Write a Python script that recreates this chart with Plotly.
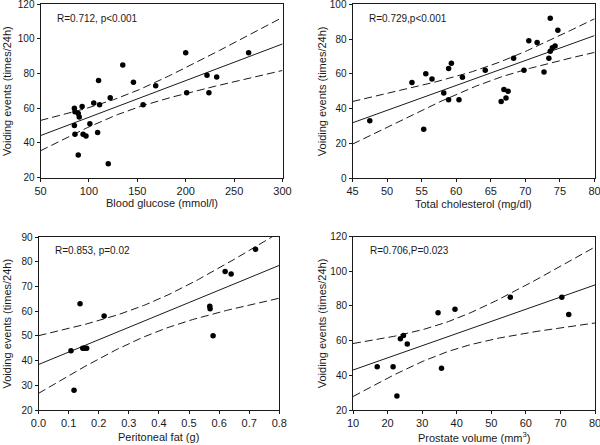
import numpy as np
import plotly.graph_objects as go

# ---------------- data ----------------
glucose_x = [85, 85.6, 89, 90, 93, 85, 85.6, 94, 97, 89, 101, 105, 110, 111, 109, 120,
             122, 135, 146, 156, 169, 200, 201, 222, 224, 232, 265]
glucose_y = [60, 58, 57, 55, 61, 50, 45, 45, 44, 33, 51, 63, 76, 62, 46, 28,
             66, 85, 75, 62, 73, 92, 69, 79, 69, 78, 92]

chol_x = [47.5, 53.6, 55.6, 56.5, 55.3, 58.2, 58.9, 59.3, 58.9, 60.9, 60.4, 64.2, 66.5, 66.9,
          67.2, 67.5, 68.3, 69.8, 70.5, 71.7, 72.7, 73.4, 73.6, 73.6, 73.9, 74.3, 74.7]
chol_y = [33, 55, 60, 57, 28, 49, 63, 66, 45, 58, 45, 62, 44, 51,
          46, 50, 69, 62, 79, 78, 61, 69, 92, 73, 75, 76, 85]

fat_x = [0.108, 0.118, 0.138, 0.147, 0.153, 0.16, 0.218, 0.569, 0.57, 0.58, 0.62, 0.64, 0.721]
fat_y = [44, 28, 63, 45, 45, 45, 58, 62, 61, 50, 76, 75, 85]

prost_x = [17, 21.6, 22.7, 23.7, 24.6, 25.7, 34.6, 35.6, 39.5, 55.5, 70.4, 72.4]
prost_y = [45, 45, 28, 61, 63, 58, 76, 44, 78, 85, 85, 75]

stats_text = ["R=0.712, p<0.001", "R=0.729,p<0.001", "R=0.853, p=0.02", "R=0.706,P=0.023"]
x_titles = ["Blood glucose (mmol/l)", "Total cholesterol (mg/dl)", "Peritoneal fat (g)",
            "Prostate volume (mm<sup>3</sup>)"]
y_title = "Voiding events (times/24h)"

x_ranges = [[50, 300], [45, 80], [0, 0.8], [10, 80]]
y_ranges = [[20, 120], [0, 100], [20, 90], [20, 120]]
x_dticks = [50, 5, 0.1, 10]
y_dticks = [20, 20, 10, 20]

# two-sided 95% t critical values by degrees of freedom
T975 = {10: 2.228, 11: 2.201, 25: 2.060}

W, H = 600, 445
# plot-area pixel boxes (left, right, top, bottom)
boxes = [(40.5, 282.5, 4.3, 177.5), (352.5, 594.5, 4.3, 178),
         (38.5, 279.3, 237, 410), (353, 595, 236.5, 410)]
# title positions in pixels: x-title centre y, y-title centre x
xtitle_y = [203, 204, 437, 437]
ytitle_x = [7, 322, 6, 322]

FONT = "Liberation Sans, Arial, sans-serif"
INK = "#1a1a1a"

fig = go.Figure()
datasets = [(glucose_x, glucose_y), (chol_x, chol_y), (fat_x, fat_y), (prost_x, prost_y)]

for i, (xs, ys) in enumerate(datasets):
    n = i + 1
    xa = "x" if n == 1 else f"x{n}"
    ya = "y" if n == 1 else f"y{n}"
    x = np.array(xs, float)
    y = np.array(ys, float)
    N = len(x)
    b, a = np.polyfit(x, y, 1)
    resid = y - (a + b * x)
    s = np.sqrt((resid ** 2).sum() / (N - 2))
    xm = x.mean()
    sxx = ((x - xm) ** 2).sum()
    xx = np.linspace(x_ranges[i][0], x_ranges[i][1], 120)
    yy = a + b * xx
    se = s * np.sqrt(1.0 / N + (xx - xm) ** 2 / sxx)
    t = T975[N - 2]

    for band in (yy + t * se, yy - t * se):
        fig.add_trace(go.Scatter(x=xx, y=band, mode="lines", xaxis=xa, yaxis=ya,
                                 line=dict(color=INK, width=1, dash="8px,4px"),
                                 hoverinfo="skip", showlegend=False))
    fig.add_trace(go.Scatter(x=xx, y=yy, mode="lines", xaxis=xa, yaxis=ya,
                             line=dict(color=INK, width=1), hoverinfo="skip", showlegend=False))
    fig.add_trace(go.Scatter(x=x, y=y, mode="markers", xaxis=xa, yaxis=ya,
                             marker=dict(color="black", size=5.5), showlegend=False))

    L, R, T, B = boxes[i]
    axis_common = dict(showline=True, mirror=True, linecolor=INK, linewidth=1,
                       ticks="outside", ticklen=3, tickcolor=INK, showgrid=False,
                       zeroline=False, automargin=False, ticklabeloverflow="allow")
    fig.update_layout(**{
        ("xaxis" if n == 1 else f"xaxis{n}"): dict(
            domain=[L / W, R / W], anchor=ya, range=x_ranges[i], dtick=x_dticks[i],
            tick0=0, tickformat=".1f" if i == 2 else None,
            tickfont=dict(family=FONT, size=11, color=INK), **axis_common),
        ("yaxis" if n == 1 else f"yaxis{n}"): dict(
            domain=[1 - B / H, 1 - T / H], anchor=xa, range=y_ranges[i], dtick=y_dticks[i],
            tickfont=dict(family=FONT, size=10, color=INK), **axis_common),
    })
    fig.add_annotation(text=stats_text[i], xref=f"{xa} domain", yref=f"{ya} domain",
                       x=0.06, y=0.92, xanchor="left", yanchor="middle", showarrow=False,
                       font=dict(family=FONT, size=10, color=INK))
    # axis titles
    fig.add_annotation(text=x_titles[i], xref="paper", yref="paper",
                       x=(L + R) / 2 / W, y=1 - xtitle_y[i] / H, xanchor="center",
                       yanchor="middle", showarrow=False,
                       font=dict(family=FONT, size=11, color=INK))
    fig.add_annotation(text=y_title, xref="paper", yref="paper", textangle=-90,
                       x=ytitle_x[i] / W, y=1 - (T + B) / 2 / H, xanchor="center",
                       yanchor="middle", showarrow=False,
                       font=dict(family=FONT, size=11, color=INK))

fig.update_layout(width=W, height=H, margin=dict(l=0, r=0, t=0, b=0),
                  paper_bgcolor="white", plot_bgcolor="white", hovermode=False)
fig.write_html("out.html", config={"displayModeBar": False},
               post_script="document.body.style.margin='0';document.body.style.overflow='hidden';")
